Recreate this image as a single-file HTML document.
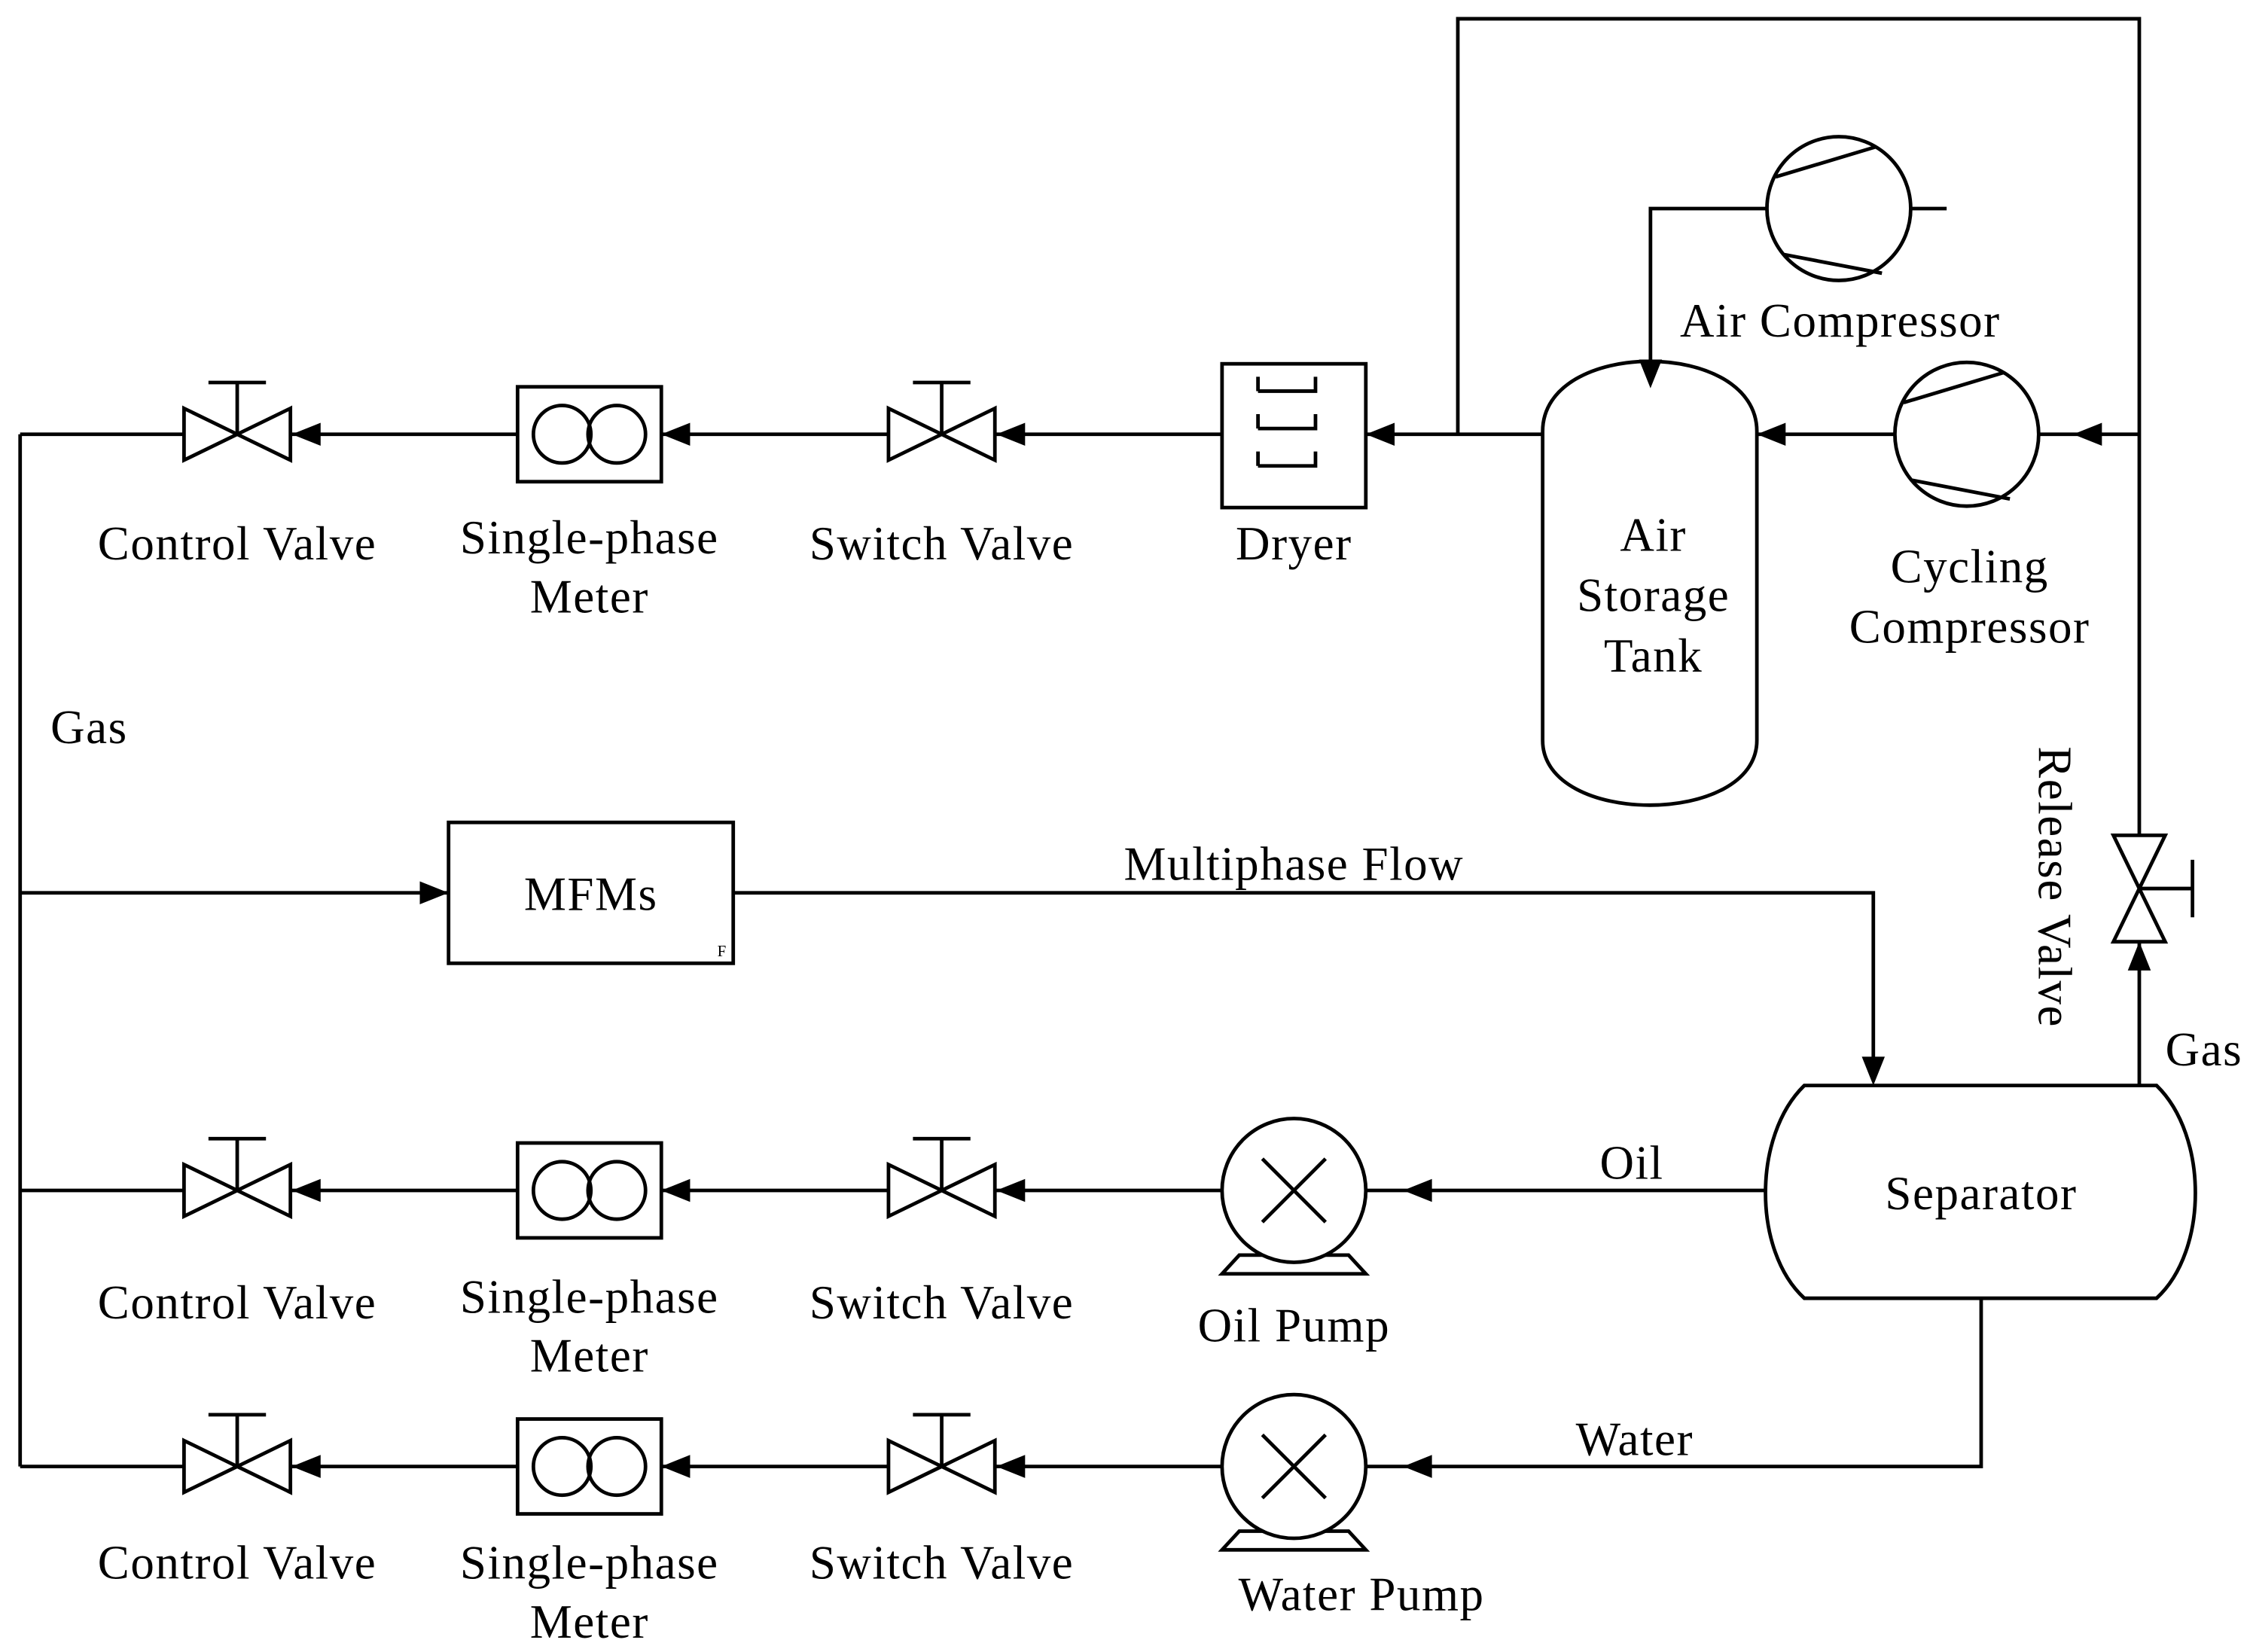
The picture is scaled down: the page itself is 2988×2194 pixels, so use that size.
<!DOCTYPE html>
<html><head><meta charset="utf-8"><style>html,body{margin:0;padding:0;background:#fff}svg{display:block}</style></head>
<body>
<svg width="2988" height="2194" viewBox="0 0 1565 1149" xmlns="http://www.w3.org/2000/svg">
<defs>
<g id="valve">
<polygon points="-37,-18 0,0 -37,18" fill="#fff" stroke="#000" stroke-width="2.5"/>
<polygon points="37,-18 0,0 37,18" fill="#fff" stroke="#000" stroke-width="2.5"/>
<line x1="0" y1="0" x2="0" y2="-36" stroke="#000" stroke-width="2.5"/>
<line x1="-20" y1="-36" x2="20" y2="-36" stroke="#000" stroke-width="2.5"/>
</g>
<g id="meter">
<rect x="-50" y="-33" width="100" height="66" fill="#fff" stroke="#000" stroke-width="2.5"/>
<circle cx="-19" cy="0" r="20" fill="none" stroke="#000" stroke-width="2.5"/>
<circle cx="19" cy="0" r="20" fill="none" stroke="#000" stroke-width="2.5"/>
</g>
<g id="pump">
<polygon points="-38,45 -50,58 50,58 38,45" fill="#fff" stroke="#000" stroke-width="2.5"/>
<circle cx="0" cy="0" r="50" fill="#fff" stroke="#000" stroke-width="2.5"/>
<line x1="-22" y1="-22" x2="22" y2="22" stroke="#000" stroke-width="2.5"/>
<line x1="-22" y1="22" x2="22" y2="-22" stroke="#000" stroke-width="2.5"/>
</g>
<g id="al"><polygon points="0,0 20,-8 20,8" fill="#000"/></g>
<g id="comp">
<circle cx="0" cy="0" r="50" fill="#fff" stroke="#000" stroke-width="2.5"/>
<line x1="-44" y1="-22" x2="26" y2="-43" stroke="#000" stroke-width="2.5"/>
<line x1="-38" y1="32" x2="30" y2="45" stroke="#000" stroke-width="2.5"/>
</g>
</defs>
<g stroke="#000" stroke-width="2.5" fill="none">
<polyline points="14,302 14,1020"/>
<line x1="14" y1="302" x2="1073" y2="302"/>
<polyline points="1014,302 1014,13 1488,13 1488,755"/>
<line x1="1222" y1="302" x2="1488" y2="302"/>
<polyline points="1354,145 1148,145 1148,260"/>
<line x1="14" y1="621" x2="312" y2="621"/>
<polyline points="510,621 1303,621 1303,745"/>
<line x1="14" y1="828" x2="1228" y2="828"/>
<polyline points="14,1020 1378,1020 1378,903"/>
<rect x="312" y="572" width="198" height="98" fill="#fff"/>
<rect x="850" y="253" width="100" height="100" fill="#fff"/>
<path d="M875,272h40v-10M875,272v-10M875,298h40v-10M875,298v-10M875,324h40v-10M875,324v-10" fill="none"/>
<path d="M1073,300 C1073,235 1222,235 1222,300 L1222,515 C1222,575 1073,575 1073,515 Z" fill="#fff"/>
<path d="M1255,755 L1500,755 C1536,790 1536,870 1500,903 L1255,903 C1219,870 1219,790 1255,755 Z" fill="#fff"/>
</g>
<use href="#valve" x="165" y="302"/><use href="#valve" x="655" y="302"/>
<use href="#valve" x="165" y="828"/><use href="#valve" x="655" y="828"/>
<use href="#valve" x="165" y="1020"/><use href="#valve" x="655" y="1020"/>
<use href="#meter" x="410" y="302"/><use href="#meter" x="410" y="828"/><use href="#meter" x="410" y="1020"/>
<use href="#pump" x="900" y="828"/><use href="#pump" x="900" y="1020"/>
<use href="#comp" x="1279" y="145"/><use href="#comp" x="1368" y="302"/>
<g transform="translate(1488,618) rotate(90)">
<polygon points="-37,-18 0,0 -37,18" fill="#fff" stroke="#000" stroke-width="2.5"/>
<polygon points="37,-18 0,0 37,18" fill="#fff" stroke="#000" stroke-width="2.5"/>
</g>
<line x1="1488" y1="618" x2="1525" y2="618" stroke="#000" stroke-width="2.5"/>
<line x1="1525" y1="598" x2="1525" y2="638" stroke="#000" stroke-width="2.5"/>
<use href="#al" x="203" y="302"/><use href="#al" x="460" y="302"/><use href="#al" x="693" y="302"/><use href="#al" x="950" y="302"/>
<use href="#al" x="1222" y="302"/><use href="#al" x="1442" y="302"/>
<use href="#al" x="203" y="828"/><use href="#al" x="460" y="828"/><use href="#al" x="693" y="828"/><use href="#al" x="976" y="828"/>
<use href="#al" x="203" y="1020"/><use href="#al" x="460" y="1020"/><use href="#al" x="693" y="1020"/><use href="#al" x="976" y="1020"/>
<polygon points="312,621 292,613 292,629" fill="#000"/>
<polygon points="1303,755 1295,735 1311,735" fill="#000"/>
<polygon points="1148,270 1140,250 1156,250" fill="#000"/>
<polygon points="1488,655 1480,675 1496,675" fill="#000"/>
<g font-family="Liberation Serif, serif" font-size="33" fill="#000" text-anchor="middle" letter-spacing="0.8">
<text x="165" y="389">Control Valve</text><text x="410" y="385">Single-phase</text><text x="410" y="426">Meter</text>
<text x="655" y="389">Switch Valve</text><text x="900" y="389">Dryer</text>
<text x="1150" y="383">Air</text><text x="1150" y="425">Storage</text><text x="1150" y="467">Tank</text>
<text x="1280" y="234">Air Compressor</text>
<text x="1370" y="405">Cycling</text><text x="1370" y="447">Compressor</text>
<text x="62" y="517">Gas</text><text x="411" y="633">MFMs</text>
<text x="900" y="612">Multiphase Flow</text>
<text x="1533" y="741">Gas</text>
<text x="1378" y="841">Separator</text>
<text x="1135" y="820">Oil</text><text x="1137" y="1012">Water</text>
<text x="165" y="917">Control Valve</text><text x="410" y="913">Single-phase</text><text x="410" y="954">Meter</text>
<text x="655" y="917">Switch Valve</text><text x="900" y="933">Oil Pump</text>
<text x="165" y="1098">Control Valve</text><text x="410" y="1098">Single-phase</text><text x="410" y="1139">Meter</text>
<text x="655" y="1098">Switch Valve</text><text x="947" y="1120">Water Pump</text>
<text transform="translate(1418,617) rotate(90)">Release Valve</text>
<text x="502" y="665" font-size="11" letter-spacing="0">F</text>
</g>
</svg>
</body></html>
